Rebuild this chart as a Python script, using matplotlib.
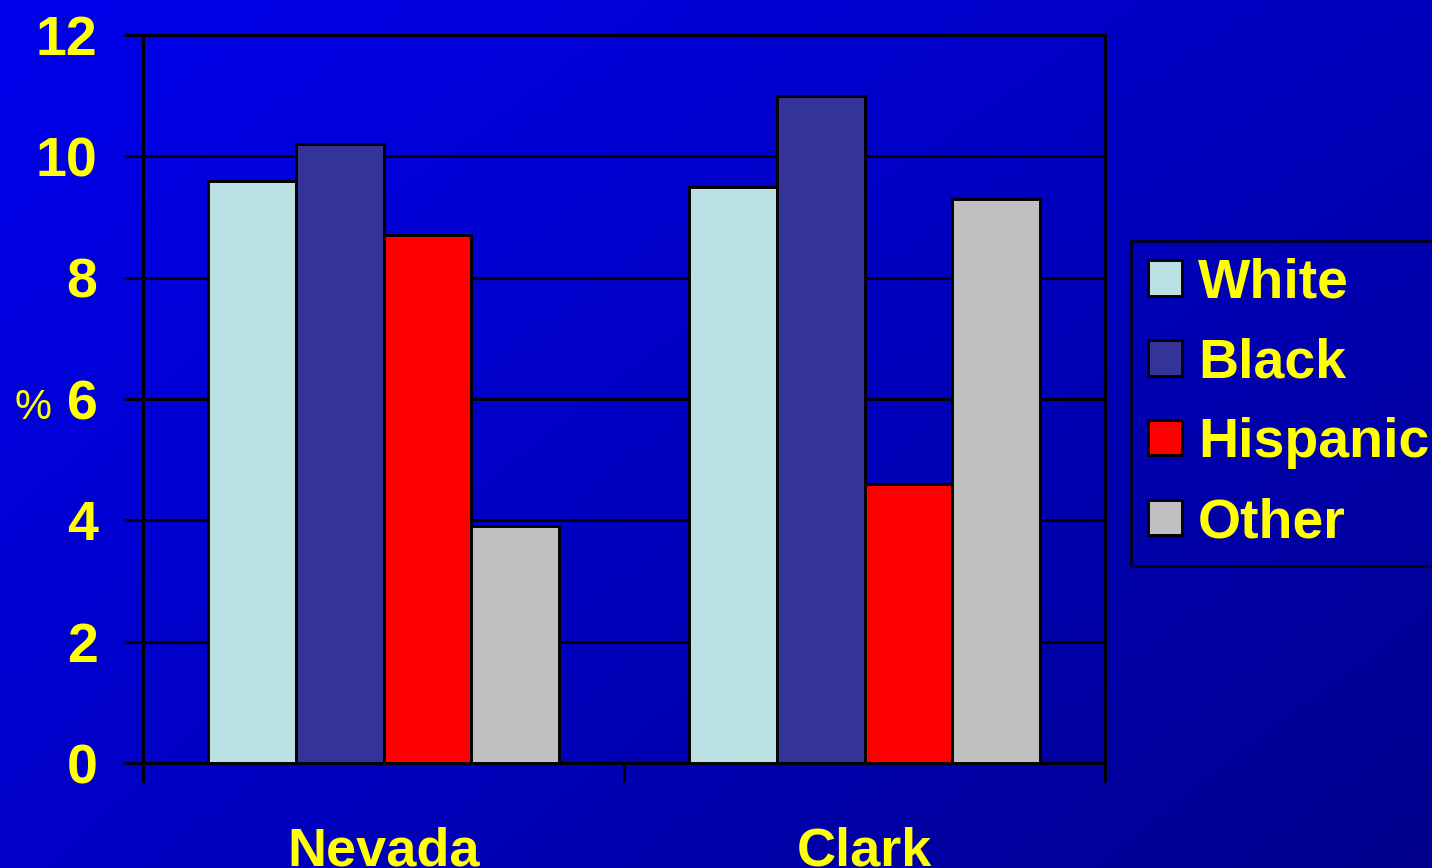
import numpy as np
import matplotlib
matplotlib.use("Agg")
import matplotlib.pyplot as plt

# data
regions = ["Nevada", "Clark"]
groups = ["White", "Black", "Hispanic", "Other"]
white = [9.6, 9.5]
black = [10.2, 11.0]
hispanic = [8.7, 4.6]
other = [3.9, 9.3]
yticks = [0, 2, 4, 6, 8, 10, 12]

series = [white, black, hispanic, other]
colors = ["#BBE0E3", "#333399", "#FF0000", "#C0C0C0"]
yellow = "#FFFF00"
font = "Liberation Sans"
lw = 2.1

fig = plt.figure(figsize=(14.32, 8.68), dpi=100)

# diagonal blue gradient background
bg = fig.add_axes([0, 0, 1, 1], zorder=-10)
u, v = np.meshgrid(np.linspace(0, 1, 300), np.linspace(0, 1, 200))
b = (238 - 50 * u - 38 * v - 10 * u * v) / 255.0
img = np.dstack([np.zeros_like(b), np.zeros_like(b), b])
bg.imshow(img, aspect="auto", extent=[0, 1, 0, 1], origin="upper")
bg.axis("off")

ax = fig.add_axes([143 / 1432, 1 - 763 / 868, (1105 - 143) / 1432, (763 - 35) / 868])
ax.set_facecolor("none")

x = np.arange(len(regions))
w = 0.1825
for i, (vals, c, name) in enumerate(zip(series, colors, groups)):
    ax.bar(x + (i - 1.5) * w, vals, w, color=c, edgecolor="black",
           linewidth=lw, label=name, zorder=3)

ax.set_xlim(-0.5, len(regions) - 0.5)
ax.set_ylim(0, 12)
ax.set_yticks(yticks)
ax.set_yticklabels([str(t) for t in yticks], fontfamily=font,
                   fontweight="bold", fontsize=40, color=yellow)
ax.yaxis.grid(True, color="black", linewidth=lw, zorder=0)
ax.set_axisbelow(True)

# boundary ticks between categories, labels at centers (cut at bottom as in source)
ax.set_xticks(np.arange(-0.5, len(regions), 1.0))
ax.set_xticklabels([])
ax.set_xticks(x, minor=True)
ax.set_xticklabels(regions, minor=True, fontfamily=font, fontweight="bold",
                   fontsize=39, color=yellow)
ax.tick_params(axis="x", which="minor", length=0, pad=46)
ax.tick_params(axis="x", which="major", length=13.7, width=lw, color="black")
ax.tick_params(axis="y", length=13.7, width=lw, color="black", pad=19)

for s in ax.spines.values():
    s.set_color("black")
    s.set_linewidth(lw)

fig.text(33 / 1432, 1 - 408 / 868, "%", fontfamily=font, fontsize=30,
         color=yellow, ha="center", va="center")

leg = ax.legend(loc="upper left", bbox_to_anchor=(1131 / 1432, 1 - 241 / 868),
                bbox_transform=fig.transFigure, frameon=True, fancybox=False,
                prop={"family": font, "weight": "bold", "size": 40},
                handlelength=0.61, handleheight=0.61, handletextpad=0.3,
                borderpad=0.3, labelspacing=0.5, borderaxespad=0)
leg.get_frame().set_facecolor("none")
leg.get_frame().set_edgecolor("black")
leg.get_frame().set_linewidth(lw)
for t in leg.get_texts():
    t.set_color(yellow)
for h in leg.legend_handles:
    h.set_linewidth(lw)

fig.savefig("out.png", dpi=100)
